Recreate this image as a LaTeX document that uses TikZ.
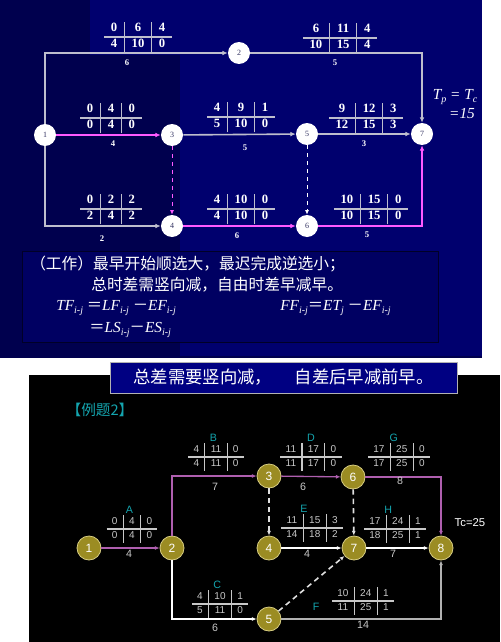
\documentclass[tikz,border=0pt]{standalone}
\usepackage{fontspec}
\setmainfont{Liberation Serif}
\setsansfont{Liberation Sans}
\newfontfamily\cjk{Noto Sans CJK SC}
\usepackage{colortbl}
\usetikzlibrary{positioning, arrows.meta, calc}

\definecolor{navydark}{RGB}{0,0,78}
\definecolor{navylight}{RGB}{0,0,110}
\definecolor{navybox}{RGB}{0,0,98}
\definecolor{bannerblue}{RGB}{0,0,130}
\definecolor{critpink}{RGB}{255,90,255}
\definecolor{linegray}{RGB}{190,190,205}
\definecolor{critviolet}{RGB}{175,95,175}
\definecolor{olivenode}{RGB}{155,140,35}
\definecolor{olivering}{RGB}{215,205,130}
\definecolor{actcyan}{RGB}{20,165,175}
\definecolor{numgray}{RGB}{200,200,200}

\newcommand\timepar[6]{\begin{tabular}{c|c|c}#1&#2&#3\\\hline #4&#5&#6\end{tabular}}
\newcommand\lowidx[1]{\raisebox{-0.45ex}{\fontsize{7.5}{8}\selectfont #1}}

\begin{document}
\begin{tikzpicture}[
    x=0.75pt, y=-0.75pt,
    topev/.style={circle, fill=white, minimum size=16.5pt, inner sep=0pt, font=\fontsize{6}{6}\selectfont, text=navydark!60!gray},
    botev/.style={circle, fill=olivenode, draw=olivering, line width=0.6pt, minimum size=18pt, inner sep=0pt, font=\sffamily\fontsize{9}{9}\selectfont, text=white},
    toptab/.style={inner sep=0pt, text=white, font=\bfseries\fontsize{9.5}{13}\selectfont\arrayrulecolor{linegray}\setlength\arrayrulewidth{0.9pt}\setlength\tabcolsep{5pt}\renewcommand\arraystretch{0.85}},
    bottab/.style={inner sep=0pt, text=numgray, font=\sffamily\fontsize{7.5}{11}\selectfont\arrayrulecolor{numgray}\setlength\arrayrulewidth{0.8pt}\setlength\tabcolsep{4pt}\renewcommand\arraystretch{0.9}},
    dur/.style={text=white, font=\bfseries\fontsize{6.5}{7}\selectfont},
    bdur/.style={text=numgray, font=\sffamily\fontsize{8}{8}\selectfont},
    actname/.style={text=actcyan, font=\sffamily\fontsize{8}{8}\selectfont, inner sep=1pt},
    cjktxt/.style={text=white, font=\cjk\fontsize{11.8}{12}\selectfont, inner sep=0pt},
    fml/.style={text=white, font=\itshape\fontsize{11.5}{12}\selectfont, inner sep=0pt},
    topln/.style={linegray, line width=1.2pt, -{Latex[length=4pt,width=3.5pt]}},
    critln/.style={critpink, line width=1.6pt, -{Latex[length=4pt,width=3.5pt]}},
    dashln/.style={line width=0.7pt, dashed, -{Latex[length=3.5pt,width=3pt]}},
    botln/.style={white, line width=0.9pt, -{Latex[length=3.5pt,width=3pt]}},
    bcrit/.style={critviolet, line width=1pt, -{Latex[length=3.5pt,width=3pt]}},
    bdash/.style={gray!25, line width=1.2pt, dash pattern=on 4pt off 3pt, -{Latex[length=3.5pt,width=3pt]}},
]
\useasboundingbox (0,0) rectangle (500,642);

% panels
\fill[white] (0,0) rectangle (500,642);
\fill[navydark] (0,0) rectangle (482,358);
\fill[navylight] (90,0) rectangle (482,55);
\fill[navylight] (180,55) rectangle (482,356);
\draw[navydark!50!black, fill=navybox] (22,251) rectangle (438,342);
\fill[black] (29,375) rectangle (500,642);

% top network
\node[topev] (t1) at (45,135) {1};
\node[topev] (t2) at (239,53) {2};
\node[topev] (t3) at (172,135) {3};
\node[topev] (t5) at (307,134) {5};
\node[topev] (t7) at (422,134) {7};
\node[topev] (t4) at (172,226) {4};
\node[topev] (t6) at (307,226) {6};

\draw[topln] (t1) |- (t2);
\draw[topln] (t1) |- (t4);
\draw[critln] (t1) -- (t3);
\draw[topln] (t3) -- (t5);
\draw[dashln, critpink] (t3) -- (t4);
\draw[topln] (t5) -- (t7);
\draw[dashln, white] (t5) -- (t6);
\draw[critln] (t4) -- (t6);
\draw[topln] (t2) -| (t7);
\draw[critln] (t6) -| (t7);

\node[toptab] (p12) at (138,37) {\timepar{0}{6}{4}{4}{10}{0}};
\node[toptab] (p13) at (111,118) {\timepar{0}{4}{0}{0}{4}{0}};
\node[toptab] (p14) at (111,209) {\timepar{0}{2}{2}{2}{4}{2}};
\node[toptab] (p35) at (241,117) {\timepar{4}{9}{1}{5}{10}{0}};
\node[toptab] (p46) at (241,209) {\timepar{4}{10}{0}{4}{10}{0}};
\node[toptab] (p57) at (366,118) {\timepar{9}{12}{3}{12}{15}{3}};
\node[toptab] (p27) at (340,38) {\timepar{6}{11}{4}{10}{15}{4}};
\node[toptab] (p67) at (371,209) {\timepar{10}{15}{0}{10}{15}{0}};

\node[dur] (d12) at (127,63) {6};
\node[dur] (d13) at (113,144) {4};
\node[dur] (d14) at (102,239) {2};
\node[dur] (d35) at (245,148) {5};
\node[dur] (d46) at (237,236) {6};
\node[dur] (d27) at (335,63) {5};
\node[dur] (d57) at (364,144) {3};
\node[dur] (d67) at (367,235) {5};

\node[fml] (tp) at (455,97) {T\lowidx{p} = T\lowidx{c}};
\node[fml] (tpval) at (462,114) {=15};

% rules
\node[cjktxt, anchor=west] (rule1) at (30,264) {（工作）最早开始顺选大，最迟完成逆选小；};
\node[cjktxt, anchor=west] (rule2) at (91,285) {总时差需竖向减，自由时差早减早。};
\node[fml, anchor=west] (tf1) at (56,308) {TF\lowidx{i-j} {\upshape\cjk ＝}LF\lowidx{i-j} {\upshape\cjk －}EF\lowidx{i-j}};
\node[fml, anchor=west] (tf2) at (89,330) {{\upshape\cjk ＝}LS\lowidx{i-j}{\upshape\cjk －}ES\lowidx{i-j}};
\node[fml, anchor=west] (ff) at (280,308) {FF\lowidx{i-j}{\upshape\cjk ＝}ET\lowidx{j} {\upshape\cjk －}EF\lowidx{i-j}};

% banner
\node[draw=gray!60, fill=bannerblue, minimum width=260pt, minimum height=23pt, inner sep=0pt, text=white, font=\cjk\fontsize{13}{13}\selectfont] (banner) at (283.5,377.5) {总差需要竖向减，\hspace{1.3em}自差后早减前早。};

\node[text=actcyan, font=\cjk\fontsize{11}{11}\selectfont] (ex2) at (100,410) {【例题2】};

% bottom network
\node[botev] (b1) at (89,548) {1};
\node[botev] (b2) at (172,548) {2};
\node[botev] (b3) at (269,476) {3};
\node[botev] (b6) at (353,477) {6};
\node[botev] (b4) at (269,548) {4};
\node[botev] (b7) at (354,548) {7};
\node[botev] (b8) at (441,548) {8};
\node[botev] (b5) at (269,619) {5};

\draw[bcrit] (b1) -- (b2);
\draw[bcrit] (b2) |- (b3);
\draw[bcrit] (b3) -- (b6);
\draw[bcrit] (b6) -| (b8);
\draw[bdash] (b3) -- (b4);
\draw[bdash] (b6) -- (b7);
\draw[botln] (b4) -- (b7);
\draw[botln] (b7) -- (b8);
\draw[botln] (b2) |- (b5);
\draw[bdash] (b5) -- (b7);
\draw[botln, gray!60, line width=1.2pt] (b5) -| (b8);

\node[bottab] (pA) at (132,529) {\timepar{0}{4}{0}{0}{4}{0}};
\node[bottab] (pB) at (216,457) {\timepar{4}{11}{0}{4}{11}{0}};
\node[bottab] (pD) at (311,457) {\timepar{11}{17}{0}{11}{17}{0}};
\node[bottab] (pG) at (399,457) {\timepar{17}{25}{0}{17}{25}{0}};
\node[bottab] (pE) at (312,528) {\timepar{11}{15}{3}{14}{18}{2}};
\node[bottab] (pH) at (395,529) {\timepar{17}{24}{1}{18}{25}{1}};
\node[bottab] (pC) at (220,604) {\timepar{4}{10}{1}{5}{11}{0}};
\node[bottab] (pF) at (363,601) {\timepar{10}{24}{1}{11}{25}{1}};

\node[actname, above=0pt of pA, xshift=-2pt] (nA) {A};
\node[actname, above=0pt of pB, xshift=-2pt] (nB) {B};
\node[actname, above=0pt of pD] (nD) {D};
\node[actname, above=0pt of pG, xshift=-4pt] (nG) {G};
\node[actname, above=0pt of pE, xshift=-6pt] (nE) {E};
\node[actname, above=0pt of pH, xshift=-5pt] (nH) {H};
\node[actname, above=0pt of pC, xshift=-2pt] (nC) {C};
\node[actname, left=8pt of pF, yshift=-4pt] (nF) {F};

\node[bdur] (dA) at (129,554) {4};
\node[bdur] (dB) at (215,487) {7};
\node[bdur] (dD) at (303,487) {6};
\node[bdur] (dG) at (400,481) {8};
\node[bdur] (dE) at (307,554) {4};
\node[bdur] (dH) at (393,554) {7};
\node[bdur] (dC) at (215,628) {6};
\node[bdur] (dF) at (363,625) {14};

\node[text=white, font=\sffamily\fontsize{8.5}{9}\selectfont] (tc) at (470,523) {Tc=25};

\end{tikzpicture}
\end{document}
